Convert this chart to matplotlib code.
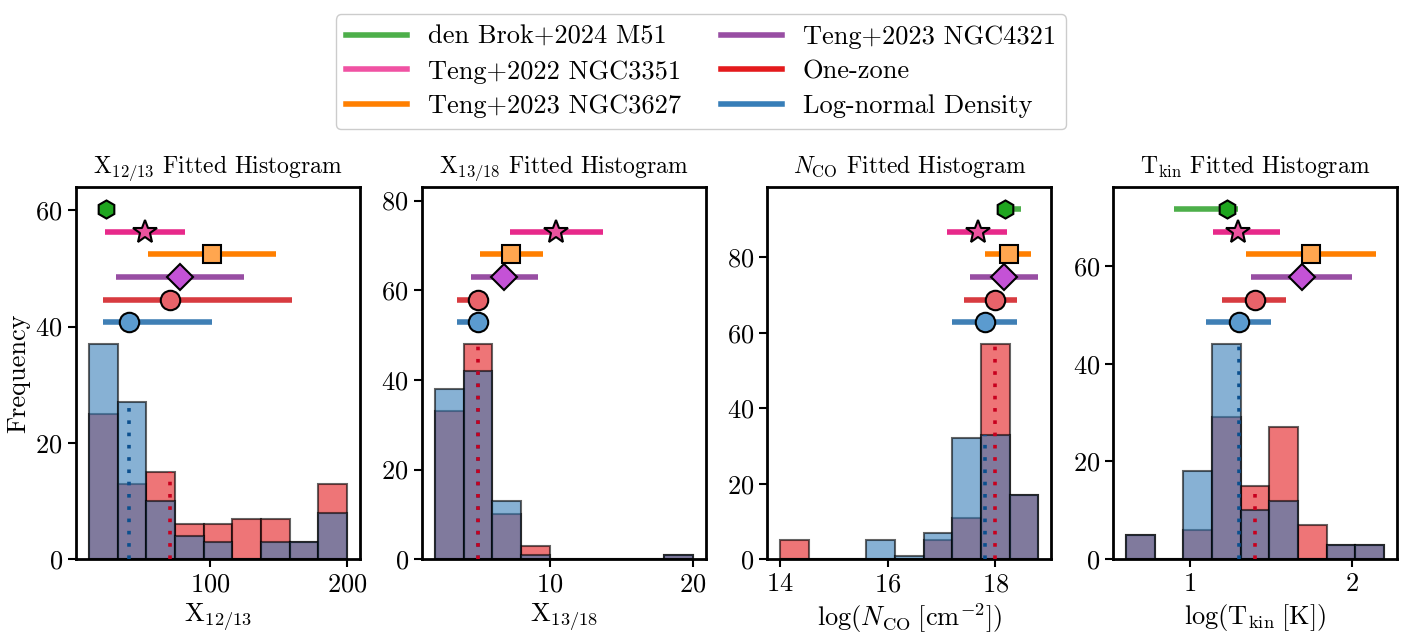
import numpy as np
import matplotlib
matplotlib.use('Agg')
import matplotlib.pyplot as plt
from matplotlib.lines import Line2D
from matplotlib.ticker import MultipleLocator

# Computer Modern look without LaTeX
plt.rcParams['font.family'] = 'serif'
plt.rcParams['font.serif'] = ['cmr10', 'DejaVu Serif']
plt.rcParams['mathtext.fontset'] = 'cm'
plt.rcParams['axes.formatter.use_mathtext'] = True
plt.rcParams['axes.unicode_minus'] = False

# ---- data ----
# histogram bins and counts (one-zone = red, log-normal = blue)
x1213_edges = np.linspace(11, 200, 10)
x1213_lognorm = [37, 27, 10, 4, 3, 0, 3, 3, 8]
x1213_onezone = [25, 13, 15, 6, 6, 7, 7, 3, 13]

x1318_edges = np.linspace(2, 20, 10)
x1318_lognorm = [38, 42, 13, 1, 0, 0, 0, 0, 1]
x1318_onezone = [33, 48, 10, 3, 0, 0, 0, 0, 1]

nco_edges = np.linspace(14.0, 18.8, 10)
nco_lognorm = [0, 0, 0, 5, 1, 7, 32, 33, 17]
nco_onezone = [5, 0, 0, 0, 0, 5, 11, 57, 17]

tkin_edges = np.linspace(0.605, 2.2, 10)
tkin_lognorm = [5, 0, 18, 44, 10, 12, 0, 3, 3]
tkin_onezone = [5, 0, 6, 29, 15, 27, 7, 3, 3]

# reference values: (centre, low, high); None = not available
refs = ['den Brok+2024 M51', 'Teng+2022 NGC3351', 'Teng+2023 NGC3627',
        'Teng+2023 NGC4321', 'One-zone', 'Log-normal Density']
x1213_ref = [(23.6, 23.6, 23.6), (52.2, 22.9, 81.0), (101.0, 54.1, 148.3),
             (77.5, 30.7, 124.4), (70.6, 21.4, 160.0), (40.7, 21.4, 101.0)]
x1318_ref = [None, (10.44, 7.22, 13.74), (7.33, 5.12, 9.51),
             (6.82, 4.50, 9.16), (5.01, 3.53, 5.3), (5.0, 3.53, 5.3)]
nco_ref = [(18.17, 18.1, 18.48), (17.68, 17.10, 18.22), (18.25, 17.81, 18.66),
           (18.16, 17.52, 18.80), (18.0, 17.41, 18.40), (17.80, 17.20, 18.40)]
tkin_ref = [(1.23, 0.903, 1.30), (1.30, 1.144, 1.557), (1.751, 1.346, 2.148),
            (1.691, 1.377, 2.002), (1.401, 1.199, 1.595), (1.302, 1.101, 1.502)]

ref_line_colors = ['#4daf4a', '#e7298a', '#ff7f00', '#984ea3', '#d83b40', '#3f7fb5']
ref_face_colors = ['#1fa51f', '#ea529e', '#ffa64f', '#c452d6', '#e8636a', '#5b9bcf']
legend_colors = ['#4daf4a', '#f052a3', '#ff7f00', '#984ea3', '#e41a1c', '#377eb8']
ref_markers = ['h', '*', 's', 'D', 'o', 'o']
ref_msizes = [13, 18, 13, 13, 14, 14]
ref_ypos = [0.94, 0.878, 0.819, 0.758, 0.696, 0.637]

panels = [
    dict(edges=x1213_edges, blue=x1213_lognorm, red=x1213_onezone, ref=x1213_ref,
         title=r'$\mathrm{X}_{12/13}$ Fitted Histogram', xlabel=r'$\mathrm{X}_{12/13}$',
         xstep=100),
    dict(edges=x1318_edges, blue=x1318_lognorm, red=x1318_onezone, ref=x1318_ref,
         title=r'$\mathrm{X}_{13/18}$ Fitted Histogram', xlabel=r'$\mathrm{X}_{13/18}$',
         xstep=10),
    dict(edges=nco_edges, blue=nco_lognorm, red=nco_onezone, ref=nco_ref,
         title=r'$N_{\mathrm{CO}}$ Fitted Histogram',
         xlabel=r'$\log(N_{\mathrm{CO}}\;[\mathrm{cm}^{-2}])$', xstep=2),
    dict(edges=tkin_edges, blue=tkin_lognorm, red=tkin_onezone, ref=tkin_ref,
         title=r'$\mathrm{T}_{\mathrm{kin}}$ Fitted Histogram',
         xlabel=r'$\log(\mathrm{T}_{\mathrm{kin}}\;[\mathrm{K}])$', xstep=1),
]

fig = plt.figure(figsize=(14.15, 6.37), dpi=100)
lefts = [0.0537, 0.2982, 0.5423, 0.7866]

for i, p in enumerate(panels):
    ax = fig.add_axes([lefts[i], 0.122, 0.2007, 0.5845])
    edges = p['edges']
    widths = np.diff(edges)
    # histograms: one-zone first, log-normal on top
    ax.bar(edges[:-1], p['red'], width=widths, align='edge', color='#e41a1c',
           alpha=0.6, edgecolor='k', linewidth=1.5)
    ax.bar(edges[:-1], p['blue'], width=widths, align='edge', color='#377eb8',
           alpha=0.6, edgecolor='k', linewidth=1.5)

    # median lines up to the height of the bin they fall in
    for counts, med, col in [(p['blue'], p['ref'][5][0], '#0b4f8e'),
                             (p['red'], p['ref'][4][0], '#c8001e')]:
        k = np.searchsorted(edges, med) - 1
        ax.vlines(med, 0, counts[k], colors=col, linestyles=(0, (1, 2.4)),
                  linewidth=2.6, zorder=3)

    # reference points with ranges, y in axes fraction
    trans = ax.get_xaxis_transform()
    for j, r in enumerate(p['ref']):
        if r is None:
            continue
        c, lo, hi = r
        ax.plot([lo, hi], [ref_ypos[j]] * 2, color=ref_line_colors[j], lw=4,
                solid_capstyle='butt', transform=trans, zorder=4)
        ax.plot([c], [ref_ypos[j]], marker=ref_markers[j], ms=ref_msizes[j],
                mfc=ref_face_colors[j], mec='k', mew=1.5, ls='none',
                transform=trans, zorder=5)

    span = edges[-1] - edges[0]
    ax.set_xlim(edges[0] - 0.05 * span, edges[-1] + 0.05 * span)
    ax.set_ylim(0, 1.73 * max(max(p['blue']), max(p['red'])))
    ax.xaxis.set_major_locator(MultipleLocator(p['xstep']))
    ax.yaxis.set_major_locator(MultipleLocator(20))
    ax.tick_params(labelsize=19, width=1.5, length=6)
    for s in ax.spines.values():
        s.set_linewidth(2)
    ax.set_title(p['title'], fontsize=17, pad=10)
    ax.set_xlabel(p['xlabel'], fontsize=19)
    if i == 0:
        ax.set_ylabel('Frequency', fontsize=19)

handles = [Line2D([], [], color=c, lw=4) for c in legend_colors]
fig.legend(handles, refs, loc='upper center', bbox_to_anchor=(0.4955, 0.998),
           ncol=2, fontsize=19, handlelength=2.3, handletextpad=0.8,
           columnspacing=1.5, labelspacing=0.42, framealpha=1)

fig.savefig('out.png', dpi=100)
